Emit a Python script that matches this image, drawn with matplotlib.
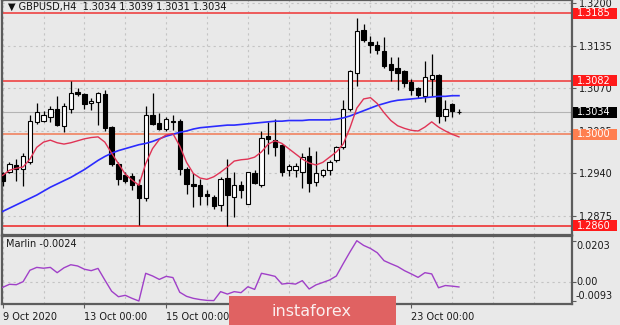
import matplotlib
matplotlib.use('Agg')
import matplotlib.pyplot as plt
from matplotlib.patches import Rectangle
import matplotlib.transforms as mtransforms

# ---------------- data ----------------
opens = [1.2940, 1.2942, 1.2953, 1.2947, 1.2957, 1.3018, 1.3021, 1.3027, 1.3039, 1.3013,
         1.3039, 1.3064, 1.3061, 1.3048, 1.3049, 1.3062, 1.3011, 1.2955, 1.2937, 1.2936,
         1.2923, 1.2903, 1.3030, 1.3017, 1.3008, 1.3021, 1.3021, 1.2947, 1.2924, 1.2922,
         1.2908, 1.2904, 1.2892, 1.2933, 1.2904, 1.2922, 1.2894, 1.2941, 1.2923, 1.2998,
         1.2991, 1.2984, 1.2945, 1.2945, 1.2943, 1.2966, 1.2927, 1.2938, 1.2945, 1.2960,
         1.2980, 1.3038, 1.3093, 1.3160, 1.3141, 1.3137, 1.3128, 1.3107, 1.3101, 1.3096,
         1.3080, 1.3070, 1.3059, 1.3085, 1.3091, 1.3028, 1.3047, 1.3034]
highs = [1.2943, 1.2958, 1.2962, 1.2972, 1.3030, 1.3048, 1.3036, 1.3043, 1.3059, 1.3048,
         1.3081, 1.3071, 1.3063, 1.3056, 1.3064, 1.3067, 1.3013, 1.2958, 1.2942, 1.2940,
         1.2932, 1.3043, 1.3063, 1.3033, 1.3027, 1.3029, 1.3023, 1.2950, 1.2940, 1.2931,
         1.2914, 1.2907, 1.2935, 1.2962, 1.2942, 1.2929, 1.2943, 1.2946, 1.3005, 1.3018,
         1.3024, 1.2985, 1.2955, 1.2956, 1.2971, 1.2980, 1.2975, 1.2947, 1.2960, 1.2982,
         1.3053, 1.3098, 1.3178, 1.3168, 1.3151, 1.3143, 1.3149, 1.3118, 1.3118, 1.3099,
         1.3085, 1.3073, 1.3112, 1.3122, 1.3092, 1.3052, 1.3048, 1.3039]
lows = [1.2921, 1.2940, 1.2929, 1.2921, 1.2955, 1.3015, 1.3018, 1.3019, 1.3013, 1.3004,
        1.3033, 1.3059, 1.3038, 1.3037, 1.3014, 1.3005, 1.2951, 1.2922, 1.2926, 1.2914,
        1.2861, 1.2898, 1.3014, 1.3007, 1.3005, 1.3007, 1.2937, 1.2909, 1.2889, 1.2892,
        1.2892, 1.2886, 1.2882, 1.2859, 1.2874, 1.2903, 1.2893, 1.2924, 1.2920, 1.2970,
        1.2967, 1.2936, 1.2936, 1.2935, 1.2918, 1.2912, 1.2921, 1.2935, 1.2937, 1.2958,
        1.2978, 1.3035, 1.3074, 1.3141, 1.3124, 1.3123, 1.3102, 1.3082, 1.3068, 1.3073,
        1.3060, 1.3055, 1.3050, 1.3058, 1.3017, 1.3020, 1.3027, 1.3031]
closes = [1.2928, 1.2955, 1.2947, 1.2967, 1.3020, 1.3034, 1.3029, 1.3039, 1.3014, 1.3043,
          1.3063, 1.3061, 1.3046, 1.3051, 1.3063, 1.3010, 1.2955, 1.2932, 1.2929, 1.2922,
          1.2903, 1.3029, 1.3015, 1.3008, 1.3023, 1.3019, 1.2947, 1.2924, 1.2921, 1.2906,
          1.2905, 1.2891, 1.2931, 1.2907, 1.2923, 1.2914, 1.2942, 1.2926, 1.2995, 1.2993,
          1.2980, 1.2942, 1.2951, 1.2952, 1.2965, 1.2926, 1.2940, 1.2945, 1.2958, 1.2980,
          1.3038, 1.3096, 1.3158, 1.3144, 1.3137, 1.3129, 1.3104, 1.3099, 1.3094, 1.3078,
          1.3068, 1.3060, 1.3087, 1.3090, 1.3028, 1.3039, 1.3035, 1.3034]
ma_fast = [1.2937, 1.2945, 1.2948, 1.2950, 1.2962, 1.2980, 1.2988, 1.2991, 1.2987, 1.2985,
           1.2987, 1.2990, 1.2993, 1.2995, 1.2996, 1.2988, 1.2971, 1.2955, 1.2939, 1.2930,
           1.2922, 1.2955, 1.2978, 1.2992, 1.2999, 1.3001, 1.2982, 1.2957, 1.2940, 1.2933,
           1.2931, 1.2935, 1.2942, 1.2950, 1.2959, 1.2961, 1.2962, 1.2965, 1.2973, 1.2985,
           1.2990, 1.2986, 1.2978, 1.2970, 1.2962, 1.2956, 1.2953, 1.2957, 1.2965, 1.2973,
           1.2985, 1.3010, 1.3040, 1.3054, 1.3056, 1.3047, 1.3033, 1.3021, 1.3013, 1.3009,
           1.3006, 1.3005, 1.3011, 1.3019, 1.3011, 1.3005, 1.3000, 1.2996]
ma_slow = [1.2882, 1.2887, 1.2892, 1.2897, 1.2902, 1.2907, 1.2913, 1.2919, 1.2924, 1.2929,
           1.2934, 1.2940, 1.2946, 1.2953, 1.2960, 1.2966, 1.2971, 1.2975, 1.2978, 1.2981,
           1.2984, 1.2986, 1.2989, 1.2993, 1.2997, 1.3000, 1.3003, 1.3005, 1.3008, 1.3010,
           1.3011, 1.3012, 1.3013, 1.3014, 1.3014, 1.3015, 1.3016, 1.3017, 1.3018, 1.3019,
           1.3020, 1.3020, 1.3021, 1.3021, 1.3021, 1.3022, 1.3022, 1.3022, 1.3022, 1.3023,
           1.3025, 1.3028, 1.3032, 1.3036, 1.3040, 1.3044, 1.3047, 1.3050, 1.3052, 1.3053,
           1.3054, 1.3055, 1.3056, 1.3057, 1.3058, 1.3058, 1.3059, 1.3059]
marlin = [-0.0026, -0.0011, -0.0013, 0.0002, 0.0058, 0.0072, 0.0068, 0.0072, 0.0046, 0.0070,
          0.0085, 0.0079, 0.0063, 0.0056, 0.0067, 0.0010, -0.0045, -0.0072, -0.0065, -0.0080,
          -0.0093, 0.0043, 0.0030, 0.0013, 0.0028, 0.0022, -0.0050, -0.0070, -0.0080, -0.0086,
          -0.0090, -0.0091, -0.0047, -0.0059, -0.0047, -0.0052, -0.0023, -0.0036, 0.0043, 0.0036,
          0.0028, -0.0010, -0.0006, -0.0010, 0.0007, -0.0034, -0.0014, -0.0002, 0.0010, 0.0030,
          0.0090, 0.0148, 0.0203, 0.0180, 0.0165, 0.0144, 0.0105, 0.0090, 0.0076, 0.0056,
          0.0040, 0.0023, 0.0046, 0.0040, -0.0028, -0.0017, -0.0020, -0.0024]

price_ticks = [1.2875, 1.2940, 1.3005, 1.3070, 1.3135, 1.3200]
time_tick_bars = [0, 12, 24, 36, 48, 60]
time_labels = ['9 Oct 2020', '13 Oct 00:00', '15 Oct 00:00', '', '', '23 Oct 00:00']
grid_bars = list(range(0, 84, 6))
levels = [1.3185, 1.3082, 1.3000, 1.2860]
level_line_colors = ['#ee5050', '#ee5050', '#f08a6a', '#ee4040']
level_box_colors = ['#ff1a1a', '#ff1a1a', '#ff7f50', '#ff1a1a']
last_price = 1.3034
marlin_ticks = [0.0203, 0.0, -0.0093]
marlin_tick_labels = ['0.0203', '0.00', '-0.0093']
title = '\u25bc GBPUSD,H4  1.3034 1.3039 1.3031 1.3034'
marlin_title = 'Marlin -0.0024'

# ---------------- figure ----------------
BG = '#e9e9e9'
SP = '#5c5c5c'
W, H = 620, 325
fig = plt.figure(figsize=(W / 100, H / 100), dpi=100, facecolor=BG)
plt.rcParams['font.family'] = ['DejaVu Sans']
FS = 7

ax = fig.add_axes([2 / W, 1 - 235 / H, 570 / W, 235 / H], facecolor=BG)
ax2 = fig.add_axes([2 / W, 1 - 304 / H, 570 / W, 68 / H], facecolor=BG)

xmin, xmax = -0.1, 83.6
ax.set_xlim(xmin, xmax)
ax.set_ylim(1.284592, 1.320535)
ax2.set_xlim(xmin, xmax)
ax2.set_ylim(-0.01077, 0.02261)

for a in (ax, ax2):
    for s in a.spines.values():
        s.set_color(SP)
        s.set_linewidth(1.6)
    a.set_xticks([])
    a.yaxis.tick_right()

gridkw = dict(color='#c4c4c4', lw=0.8, ls=(0, (2, 3)), zorder=0)
for b in grid_bars:
    ax.axvline(b, **gridkw)
    ax2.axvline(b, **gridkw)
for p in price_ticks:
    ax.axhline(p, **gridkw)
ax2.axhline(0.0, **gridkw)

# levels
for lv, c in zip(levels, level_line_colors):
    ax.axhline(lv, color=c, lw=1.3, zorder=1)
ax.axhline(last_price, color='#b4b4b4', lw=0.8, zorder=1)

# candles
n = len(opens)
xs = list(range(n))
ax.vlines(xs, lows, highs, color='black', lw=0.9, zorder=3)
bottoms = [min(o, c) for o, c in zip(opens, closes)]
heights = [max(abs(c - o), 0.00003) for o, c in zip(opens, closes)]
fcols = ['white' if c >= o else 'black' for o, c in zip(opens, closes)]
ax.bar(xs, heights, bottom=bottoms, width=0.64, color=fcols, edgecolor='black',
       linewidth=0.8, zorder=4)

ax.plot(xs, ma_slow, color='#2b2bff', lw=1.2, zorder=5)
ax.plot(xs, ma_fast, color='#e03355', lw=1.0, zorder=5)

# price axis
ax.set_yticks(price_ticks)
ax.set_yticklabels(['%.4f' % p for p in price_ticks])
ax.tick_params(axis='y', direction='out', length=3, width=0.8, color=SP,
               labelsize=FS, pad=2, labelcolor='#1a1a1a')

btr = mtransforms.blended_transform_factory(fig.transFigure, ax.transData)
box_h = 11 / 235 * (1.320535 - 1.284592)
for lv, bc in zip(levels, level_box_colors):
    r = Rectangle((573 / W, lv - box_h / 2), 44 / W, box_h, transform=btr,
                  facecolor=bc, edgecolor='none', clip_on=False, zorder=10)
    ax.add_patch(r)
    ax.text(577 / W, lv, '%.4f' % lv, transform=btr, color='white', fontsize=FS,
            va='center', ha='left', zorder=11, clip_on=False)
r = Rectangle((573 / W, last_price - box_h / 2), 44 / W, box_h, transform=btr,
              facecolor='black', edgecolor='none', clip_on=False, zorder=10)
ax.add_patch(r)
ax.text(577 / W, last_price, '%.4f' % last_price, transform=btr, color='white',
        fontsize=FS, va='center', ha='left', zorder=11, clip_on=False)

ax.text(6 / 570, 1 - 7 / 235, title, transform=ax.transAxes, fontsize=FS,
        color='#111111', va='center', ha='left', zorder=12)

# indicator
ax2.plot(xs, marlin, color='#a040c8', lw=1.0, zorder=5)
ax2.set_yticks(marlin_ticks)
ax2.set_yticklabels([])
ax2.tick_params(axis='y', direction='out', length=3, width=0.8, color=SP)
btr2 = mtransforms.blended_transform_factory(fig.transFigure, ax2.transData)
vas = ['top', 'center', 'bottom']
for v, lab, va in zip(marlin_ticks, marlin_tick_labels, vas):
    ax2.text(576 / W, v, lab, transform=btr2, fontsize=FS, color='#1a1a1a',
             va=va, ha='left', clip_on=False)
ax2.text(4 / 570, 1 - 8 / 68, marlin_title, transform=ax2.transAxes, fontsize=FS,
         color='#1a1a1a', va='center', ha='left')

ax2.set_xticks(time_tick_bars)
ax2.set_xticklabels(time_labels, fontsize=FS, color='#1a1a1a')
for t in ax2.get_xticklabels():
    t.set_horizontalalignment('left')
ax2.tick_params(axis='x', direction='out', length=3, width=0.8, color=SP, pad=3)

# watermark
fig.patches.append(Rectangle((229 / W, 0), 167 / W, 29 / H, transform=fig.transFigure,
                             facecolor='#e06262', edgecolor='none', zorder=20))
fig.text(312 / W, 14 / H, 'instaforex', fontsize=11.5, color='#fbeeee',
         ha='center', va='center', zorder=21)

fig.savefig('out.png', dpi=100, facecolor=BG)
